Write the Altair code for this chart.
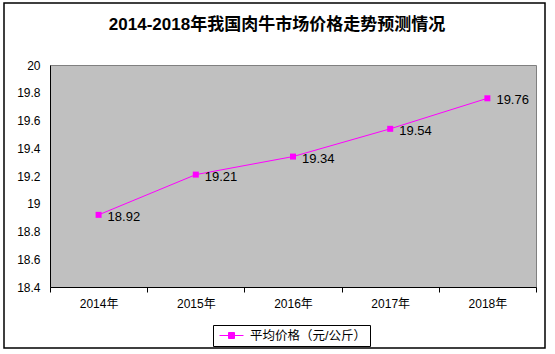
import altair as alt
import pandas as pd

years = ["2014年", "2015年", "2016年", "2017年", "2018年"]
prices = [18.92, 19.21, 19.34, 19.54, 19.76]
series_name = "平均价格（元/公斤）"
y_ticks = [18.4, 18.6, 18.8, 19.0, 19.2, 19.4, 19.6, 19.8, 20.0]
title_text = "2014-2018年我国肉牛市场价格走势预测情况"

FONT = "Liberation Sans, Noto Sans CJK SC"
MAGENTA = "#FF00FF"

df = pd.DataFrame({"year": years, "price": prices, "series": [series_name] * len(years)})

x_enc = alt.X(
    "year:N", sort=years, title=None,
    scale=alt.Scale(type="band", paddingInner=0, paddingOuter=0),
    axis=alt.Axis(labelAngle=0, tickBand="extent", tickSize=5, tickColor="black",
                  domainColor="black", labelPadding=6, labelFontSize=12,
                  labelFont=FONT, labelColor="black", grid=False),
)
y_enc = alt.Y(
    "price:Q", title=None,
    scale=alt.Scale(domain=[18.4, 20.0], nice=False, zero=False),
    axis=alt.Axis(values=y_ticks, format=".1~f", tickSize=0, labelPadding=10,
                  domainColor="black", labelFontSize=12, labelFont=FONT,
                  labelColor="black", grid=False),
)

base = alt.Chart(df)

line = base.mark_line(color=MAGENTA, strokeWidth=1).encode(x=x_enc, y=y_enc)

legend_symbol = "M-2,0L2,0M-0.5,-0.5L0.5,-0.5L0.5,0.5L-0.5,0.5Z"

points = base.mark_point(filled=True, shape="square", size=36, opacity=1).encode(
    x=x_enc, y=y_enc,
    color=alt.Color(
        "series:N",
        scale=alt.Scale(range=[MAGENTA]),
        legend=alt.Legend(
            title=None, orient="none", legendX=163, legendY=260,
            symbolType=legend_symbol, symbolSize=144,
            symbolStrokeColor=MAGENTA, symbolFillColor=MAGENTA, symbolStrokeWidth=1,
            symbolOffset=8, labelOffset=12,
            strokeColor="black", padding=4,
            labelFontSize=12.5, labelFont=FONT, labelColor="black",
        ),
    ),
)

labels = base.mark_text(align="left", baseline="middle", dx=9, dy=2,
                        fontSize=13, font=FONT, color="black").encode(
    x=x_enc, y=y_enc, text=alt.Text("price:Q", format=".2f")
)

border = alt.Chart(pd.DataFrame({"a": [0]})).mark_rect(
    filled=False, stroke="black", strokeWidth=1.5
).encode(
    x=alt.value(-46), x2=alt.value(495), y=alt.value(-62), y2=alt.value(283)
)

chart = alt.layer(border, line, points, labels).properties(
    width=486, height=222,
    background="white",
    title=alt.TitleParams(title_text, fontSize=17, fontWeight="bold", font=FONT,
                          color="black", anchor="middle", dx=-16, offset=-45,
                          baseline="alphabetic"),
    autosize=alt.AutoSizeParams(type="none"),
    padding={"left": 50, "top": 65, "right": 19, "bottom": 67},
).configure_view(
    fill="#C0C0C0", stroke="#808080", strokeWidth=1
)

chart.save("out.html", embed_options={"renderer": "svg", "actions": False})
